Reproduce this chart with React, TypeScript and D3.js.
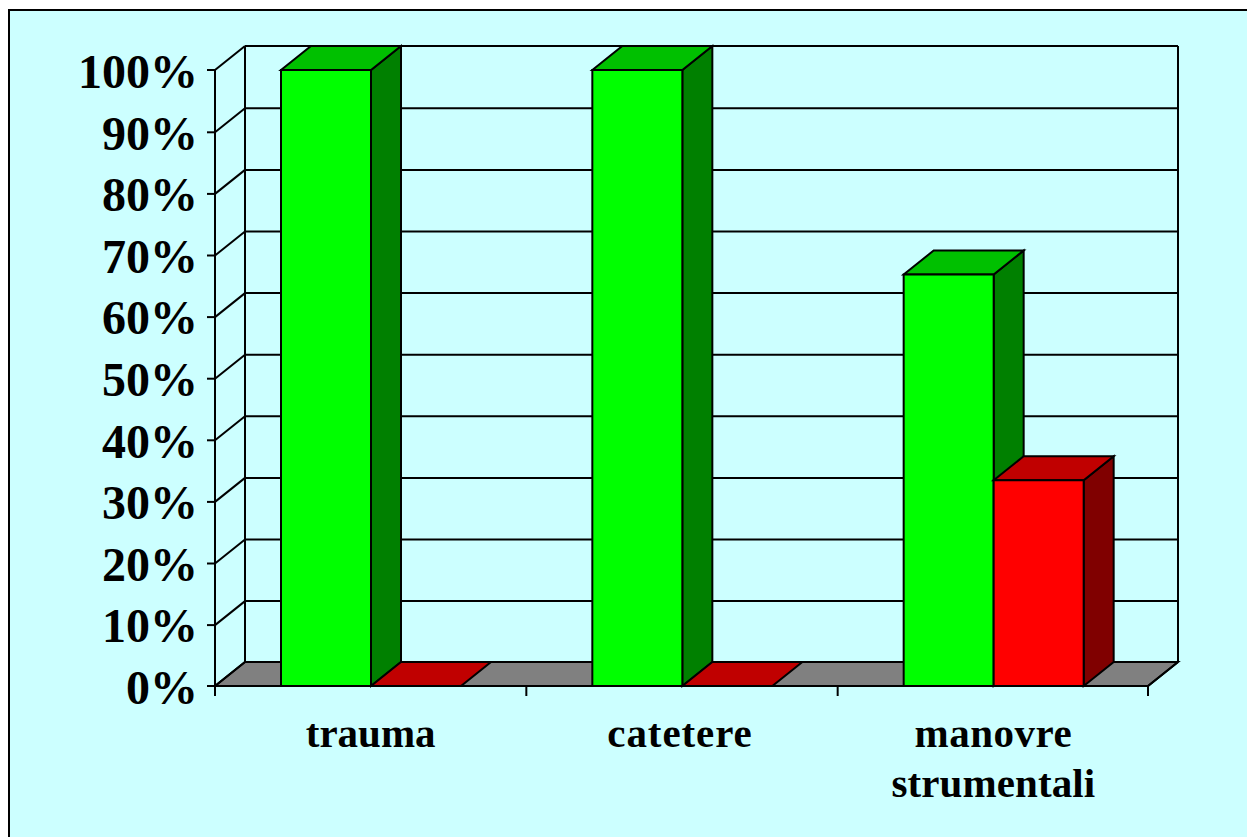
import React from "react";
import * as d3 from "d3";

const categories = [["trauma"], ["catetere"], ["manovre", "strumentali"]];
const greenValues = [100, 100, 66.8];
const redValues = [0, 0, 33.4];
const yTicks = [0, 10, 20, 30, 40, 50, 60, 70, 80, 90, 100];

const W = 1247, H = 837;
const x0 = 215, x1 = 1149, y0 = 686, y1 = 70;
const dx = 30, dy = -24;
const barW = 90, barPad = 66;
const gridNudge = 0.7;
const font = "'Liberation Serif', 'Times New Roman', serif";
const labelSpacing: Record<string, number> = { catetere: 0.9, manovre: 0.5, strumentali: 0.1, trauma: 0 };

const y = d3.scaleLinear().domain([0, 100]).range([y0, y1]);
const xBand = d3.scaleBand<number>().domain(categories.map((_, i) => i)).range([x0, x1]);
const pts = (p: number[][]) => p.map((q) => q.join(",")).join(" ");
const K = "#000";

function Bar({ x, v, front, top, side }: { x: number; v: number; front: string; top: string; side: string }) {
  const yt = y(v);
  const r = x + barW;
  return (
    <g stroke={K} strokeWidth={2} strokeLinejoin="miter">
      {v > 0 && <polygon points={pts([[r, y0], [r + dx, y0 + dy], [r + dx, yt + dy], [r, yt]])} fill={side} />}
      <polygon points={pts([[x, yt], [x + dx, yt + dy], [r + dx, yt + dy], [r, yt]])} fill={top} />
      {v > 0 && <rect x={x} y={yt} width={barW} height={y0 - yt} fill={front} />}
    </g>
  );
}

export default function App() {
  const inner = xBand.bandwidth();
  const right = x1 - 1;
  return (
    <svg width={W} height={H} viewBox={`0 0 ${W} ${H}`} style={{ position: "absolute", left: 0, top: 0, display: "block" }}>
      <rect width={W} height={H} fill="#fff" />
      <rect x={9} y={10} width={W + 20} height={H + 20} fill="#CCFFFF" stroke={K} strokeWidth={2} />
      {/* floor */}
      <polygon points={pts([[x0, y0], [x0 + dx, y0 + dy], [right + dx, y0 + dy], [right, y0]])} fill="#808080" stroke={K} strokeWidth={2} />
      {/* walls and gridlines */}
      <g stroke={K} strokeWidth={2} fill="none">
        {yTicks.map((t) => {
          const gy = y(t) + (t > 0 && t < 100 ? gridNudge : 0);
          return (
            <g key={t}>
              <line x1={x0 - 8} x2={x0} y1={gy} y2={gy} />
              <line x1={x0} y1={gy} x2={x0 + dx} y2={gy + dy} />
              <line x1={x0 + dx} x2={right + dx} y1={gy + dy} y2={gy + dy} />
            </g>
          );
        })}
        <line x1={x0} x2={x0} y1={y1} y2={y0} />
        <line x1={x0 + dx} x2={x0 + dx} y1={y1 + dy} y2={y0 + dy} />
        <line x1={right + dx} x2={right + dx} y1={y1 + dy} y2={y0 + dy} />
        <line x1={right} y1={y0} x2={right + dx} y2={y0 + dy} />
      </g>
      {categories.map((_, i) => {
        const bx = xBand(i)! + barPad;
        return (
          <g key={i}>
            <Bar x={bx} v={greenValues[i]} front="#00FF00" top="#00C000" side="#008000" />
            <Bar x={bx + barW} v={redValues[i]} front="#FF0000" top="#C00000" side="#800000" />
          </g>
        );
      })}
      <line x1={x0 - 8} x2={right} y1={y0} y2={y0} stroke={K} strokeWidth={2} />
      {d3.range(categories.length + 1).map((i) => {
        const tx = Math.min(x0 + i * inner, right);
        return <line key={i} x1={tx} x2={tx} y1={y0} y2={y0 + 10} stroke={K} strokeWidth={2} />;
      })}
      {yTicks.map((t) => (
        <text key={t} x={198} y={y(t) + 18} textAnchor="end" fontFamily={font} fontWeight="bold" fontSize={48} fill={K}>
          {t}%
        </text>
      ))}
      {categories.map((lines, i) => (
        <text key={i} textAnchor="middle" fontFamily={font} fontWeight="bold" fontSize={41} fill={K}>
          {lines.map((l, j) => (
            <tspan key={j} x={xBand(i)! + inner / 2 + (i === 1 ? -2 : 0)} y={747 + j * 50} letterSpacing={labelSpacing[l]}>{l}</tspan>
          ))}
        </text>
      ))}
    </svg>
  );
}
